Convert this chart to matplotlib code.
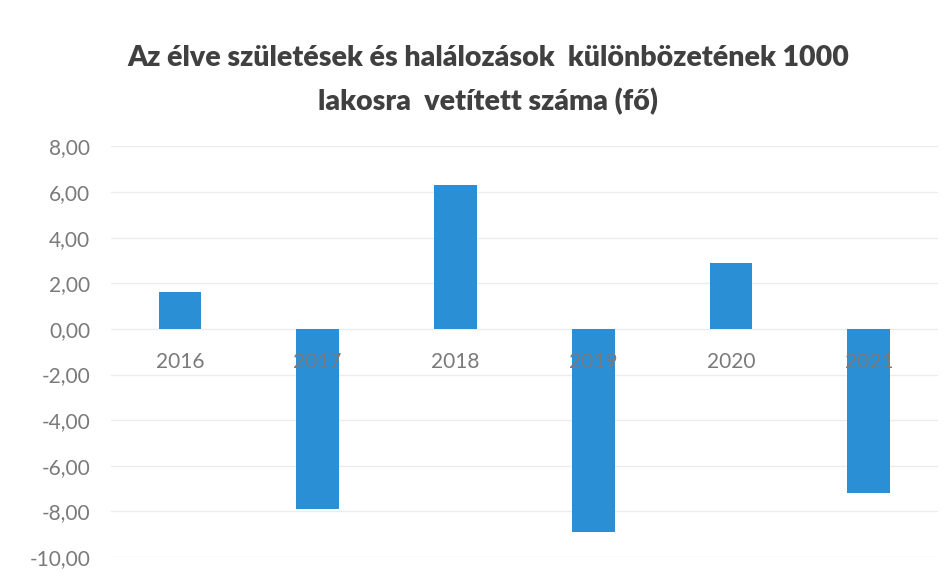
import numpy as np
import matplotlib.pyplot as plt
from matplotlib.ticker import FuncFormatter

plt.rcParams['font.family'] = ['Lato', 'DejaVu Sans']

years = ['2016', '2017', '2018', '2019', '2020', '2021']
values = [1.6, -7.9, 6.3, -8.9, 2.9, -7.2]
yticks = np.arange(-10, 9, 2)

fig = plt.figure(figsize=(9.52, 5.81), dpi=100)
ax = fig.add_axes([0.1166, 0.0413, 0.8684, 0.7067])

x = np.arange(len(years))
ax.bar(x, values, width=0.31, color='#2b8fd6', zorder=2)

ax.set_xlim(-0.5, len(years) - 0.5)
ax.set_ylim(-10, 8)
ax.set_yticks(yticks)
ax.yaxis.set_major_formatter(FuncFormatter(lambda v, p: f'{v:.2f}'.replace('.', ',')))
ax.tick_params(axis='y', length=0, pad=15, labelsize=15, labelcolor='#7a7a7a')
ax.set_xticks([])
ax.grid(axis='y', color='#ececec', lw=1, zorder=0)
for s in ax.spines.values():
    s.set_visible(False)

# category labels sit just under the zero line, over the bars
for i, yr in enumerate(years):
    ax.annotate(yr, (i, 0), xytext=(0, -24), textcoords='offset points',
                ha='center', va='center', fontsize=15, color='#7a7a7a', zorder=3)

fig.text(0.513, 0.900, 'Az élve születések és halálozások  különbözetének 1000',
         ha='center', va='center', fontsize=20.5, fontweight='heavy', color='#404040')
fig.text(0.513, 0.826, 'lakosra  vetített száma (fő)',
         ha='center', va='center', fontsize=20.5, fontweight='heavy', color='#404040')

fig.savefig('out.png', dpi=100)
